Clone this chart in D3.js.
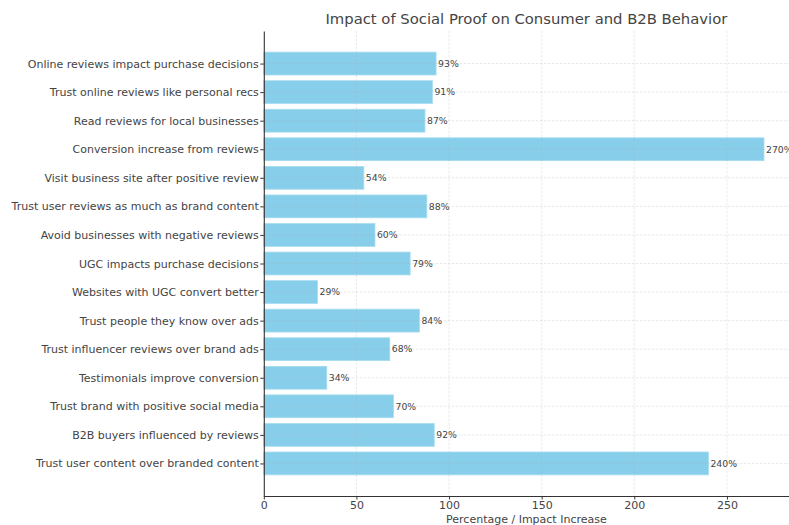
<!DOCTYPE html>
<html>
<head>
<meta charset="utf-8">
<script src="https://cdn.jsdelivr.net/npm/d3@7"></script>
<style>
  body { margin: 0; background: #fff; }
  svg { font-family: "DejaVu Sans", sans-serif; }
</style>
</head>
<body>
<svg id="chart" width="789" height="525"></svg>
<script>
// data, top to bottom
var categories = [
  'Online reviews impact purchase decisions',
  'Trust online reviews like personal recs',
  'Read reviews for local businesses',
  'Conversion increase from reviews',
  'Visit business site after positive review',
  'Trust user reviews as much as brand content',
  'Avoid businesses with negative reviews',
  'UGC impacts purchase decisions',
  'Websites with UGC convert better',
  'Trust people they know over ads',
  'Trust influencer reviews over brand ads',
  'Testimonials improve conversion',
  'Trust brand with positive social media',
  'B2B buyers influenced by reviews',
  'Trust user content over branded content'
];
var values = [93, 91, 87, 270, 54, 88, 60, 79, 29, 84, 68, 34, 70, 92, 240];
var xTicks = [0, 50, 100, 150, 200, 250];

// plot area (window.top is reserved, so not "top")
var plotL = 263.8, plotR = 789, plotT = 31, plotB = 496;
var textColor = '#444';

var svg = d3.select('#chart');

var x = d3.scaleLinear()
  .domain([0, 270 * 1.05])
  .range([plotL, plotR]);

// matplotlib-like band: bar height .8 with 5% margins
var n = categories.length;
var y = d3.scaleLinear()
  .domain([-0.4 - 0.74, n - 1 + 0.4 + 0.74])
  .range([plotT, plotB]);
var barH = (y(0.8) - y(0));

// bars
svg.append('g').selectAll('rect')
  .data(values)
  .enter().append('rect')
  .attr('x', x(0))
  .attr('y', function(d, i) { return y(i) - barH / 2; })
  .attr('width', function(d) { return x(d) - x(0); })
  .attr('height', barH)
  .attr('fill', '#87ceeb')
  .attr('stroke', '#a6dcf0')
  .attr('stroke-width', 0.8);

// grid on top of bars
var grid = svg.append('g')
  .attr('stroke', '#b0b0b0')
  .attr('stroke-opacity', 0.35)
  .attr('stroke-width', 0.8)
  .attr('stroke-dasharray', '2.5,1.5');
grid.selectAll('.vg')
  .data(xTicks.slice(1))
  .enter().append('line')
  .attr('x1', function(d) { return x(d); })
  .attr('x2', function(d) { return x(d); })
  .attr('y1', plotT)
  .attr('y2', plotB);
grid.selectAll('.hg')
  .data(categories)
  .enter().append('line')
  .attr('x1', plotL)
  .attr('x2', plotR)
  .attr('y1', function(d, i) { return y(i); })
  .attr('y2', function(d, i) { return y(i); });

// value labels
svg.append('g').selectAll('text')
  .data(values)
  .enter().append('text')
  .attr('x', function(d) { return x(d) + 2; })
  .attr('y', function(d, i) { return y(i); })
  .attr('dy', '0.35em')
  .attr('font-size', '9.3px')
  .attr('fill', textColor)
  .text(function(d) { return d + '%'; });

// x axis
var xAxis = svg.append('g')
  .attr('transform', 'translate(0,' + plotB + ')')
  .call(d3.axisBottom(x).tickValues(xTicks).tickSize(3.5).tickPadding(2).tickSizeOuter(0));
xAxis.select('.domain').attr('stroke', '#333').attr('stroke-width', 1.1);
xAxis.selectAll('.tick line').attr('stroke', '#333');
xAxis.selectAll('text')
  .attr('font-family', '"DejaVu Sans", sans-serif')
  .attr('font-size', '11px')
  .attr('fill', textColor);

// y axis
var yAxis = svg.append('g')
  .attr('transform', 'translate(' + plotL + ',0)')
  .call(d3.axisLeft(y).tickValues(d3.range(n)).tickFormat(function(i) { return categories[i]; })
    .tickSize(3.5).tickPadding(1.5).tickSizeOuter(0));
yAxis.select('.domain').attr('stroke', '#333').attr('stroke-width', 1.1);
yAxis.selectAll('.tick line').attr('stroke', '#333');
yAxis.selectAll('text')
  .attr('font-family', '"DejaVu Sans", sans-serif')
  .attr('font-size', '11px')
  .attr('fill', textColor);

// title and axis label
svg.append('text')
  .attr('x', (plotL + plotR) / 2)
  .attr('y', 24)
  .attr('text-anchor', 'middle')
  .attr('font-size', '14.8px')
  .attr('fill', textColor)
  .text('Impact of Social Proof on Consumer and B2B Behavior');

svg.append('text')
  .attr('x', (plotL + plotR) / 2)
  .attr('y', 523)
  .attr('text-anchor', 'middle')
  .attr('font-size', '11px')
  .attr('fill', textColor)
  .text('Percentage / Impact Increase');
</script>
</body>
</html>
